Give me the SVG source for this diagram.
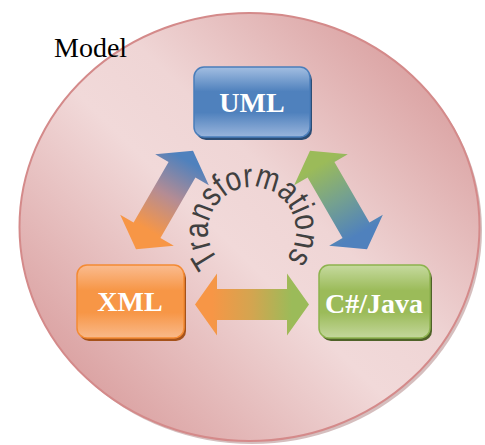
<svg xmlns="http://www.w3.org/2000/svg" width="485" height="445" viewBox="0 0 485 445">
<style>
.lbl{font-family:"Liberation Serif","Times New Roman",serif;font-weight:bold;font-size:28px;fill:#ffffff;text-anchor:middle}
.model{font-family:"Liberation Serif","Times New Roman",serif;font-size:28px;fill:#000000}
.arc{font-family:"Liberation Sans",Arial,sans-serif;font-size:34px;fill:#404040}
</style>
<defs>
<linearGradient id="bg" gradientUnits="userSpaceOnUse" x1="70" y1="410" x2="430" y2="45">
<stop offset="0" stop-color="#d89b9b"/>
<stop offset="0.45" stop-color="#f1d9d9"/>
<stop offset="0.6" stop-color="#efd5d5"/>
<stop offset="1" stop-color="#d89c9c"/>
</linearGradient>
<linearGradient id="gBlue" x1="0" y1="0" x2="0" y2="1">
<stop offset="0" stop-color="#a3bee2"/>
<stop offset="0.35" stop-color="#4f81bd"/>
<stop offset="0.65" stop-color="#4f81bd"/>
<stop offset="1" stop-color="#9ab5dc"/>
</linearGradient>
<linearGradient id="gOrange" x1="0" y1="0" x2="0" y2="1">
<stop offset="0" stop-color="#fabc90"/>
<stop offset="0.35" stop-color="#f79646"/>
<stop offset="0.65" stop-color="#f79646"/>
<stop offset="1" stop-color="#f9b98a"/>
</linearGradient>
<linearGradient id="gGreen" x1="0" y1="0" x2="0" y2="1">
<stop offset="0" stop-color="#c6da9f"/>
<stop offset="0.35" stop-color="#9bbb59"/>
<stop offset="0.65" stop-color="#9bbb59"/>
<stop offset="1" stop-color="#c4d79c"/>
</linearGradient>
<linearGradient id="aOB" x1="0" y1="0" x2="1" y2="0">
<stop offset="0.2" stop-color="#f79646"/>
<stop offset="0.55" stop-color="#b48c94"/>
<stop offset="0.9" stop-color="#4f81bd"/>
</linearGradient>
<linearGradient id="aGB" x1="0" y1="0" x2="1" y2="0">
<stop offset="0.15" stop-color="#9bbb59"/>
<stop offset="0.5" stop-color="#75a18f"/>
<stop offset="0.85" stop-color="#4f81bd"/>
</linearGradient>
<linearGradient id="aOG" x1="0" y1="0" x2="1" y2="0">
<stop offset="0.15" stop-color="#f79646"/>
<stop offset="0.5" stop-color="#d3a550"/>
<stop offset="0.85" stop-color="#9bbb59"/>
</linearGradient>
<path id="arcPath" d="M 219.3 260.4 A 44 44 0 1 1 284.7 260.4"/>
</defs>

<g id="model">
<ellipse cx="252" cy="230" rx="230" ry="214" fill="#b99393" opacity="0.6"/>
<ellipse cx="249.5" cy="227" rx="230" ry="214" fill="url(#bg)" stroke="#d48a8a" stroke-width="2"/>
<text class="model" x="54" y="57">Model</text>
</g>

<g id="connectors">
<path d="M-57,0 L-35,-31 L-35,-15.5 L35,-15.5 L35,-31 L57,0 L35,31 L35,15.5 L-35,15.5 L-35,31 Z" fill="url(#aOB)" transform="translate(164.5,200) rotate(-60)"/>
<path d="M-57,0 L-35,-31 L-35,-15.5 L35,-15.5 L35,-31 L57,0 L35,31 L35,15.5 L-35,15.5 L-35,31 Z" fill="url(#aGB)" transform="translate(338.5,200) rotate(60)"/>
<path d="M-57,0 L-35,-31 L-35,-15.5 L35,-15.5 L35,-31 L57,0 L35,31 L35,15.5 L-35,15.5 L-35,31 Z" fill="url(#aOG)" transform="translate(252,304.5)"/>
</g>

<g id="transformations">
<text class="arc"><textPath href="#arcPath" startOffset="0" textLength="200" lengthAdjust="spacingAndGlyphs">Transformations</textPath></text>
</g>

<g id="uml">
<rect x="196" y="70" width="116" height="70" rx="10" fill="#2c4d75"/>
<rect x="194" y="67" width="116" height="70" rx="10" fill="url(#gBlue)" stroke="#4a7ebb" stroke-width="1.5"/>
<text class="lbl" x="252" y="112">UML</text>
</g>

<g id="xml">
<rect x="79" y="268" width="107" height="73" rx="10" fill="#a5521a"/>
<rect x="77" y="265" width="107" height="73" rx="10" fill="url(#gOrange)" stroke="#f48a33" stroke-width="1.5"/>
<text class="lbl" x="130" y="311">XML</text>
</g>

<g id="csharp">
<rect x="321" y="268" width="111" height="73" rx="10" fill="#4f6228"/>
<rect x="319" y="265" width="111" height="73" rx="10" fill="url(#gGreen)" stroke="#8db34e" stroke-width="1.5"/>
<text class="lbl" x="374" y="313">C#/Java</text>
</g>
</svg>
